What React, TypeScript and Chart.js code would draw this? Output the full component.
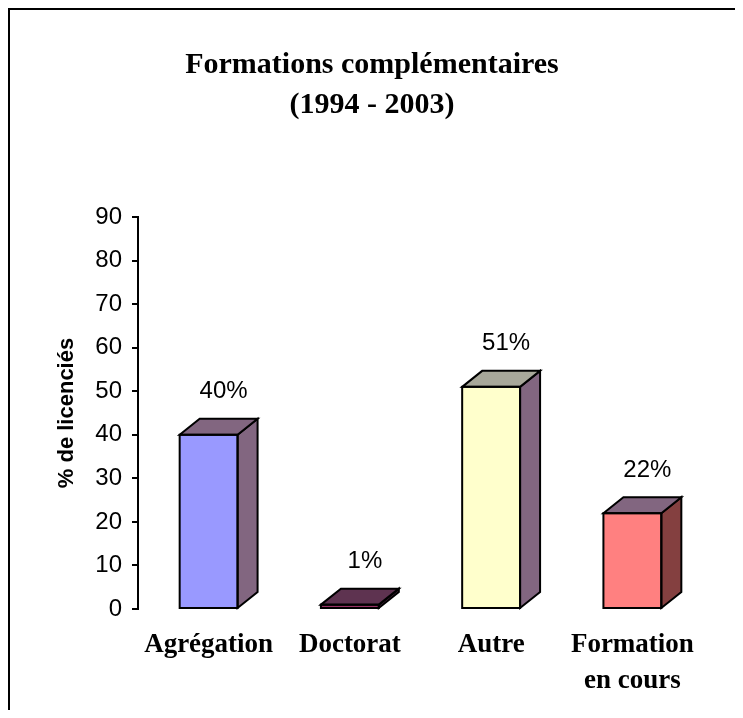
import React, { useEffect, useRef } from 'react';
import { Chart, registerables } from 'chart.js';

Chart.register(...registerables);

// ---- data ----
const titleLines: string[] = ['Formations complémentaires', '(1994 - 2003)'];
const yAxisTitle = '% de licenciés';
const categories: (string | string[])[] = ['Agrégation', 'Doctorat', 'Autre', ['Formation', 'en cours']];
const values: number[] = [40, 1, 51, 22];
const yMin = 0;
const yMax = 90;
const yStep = 10;

// ---- styles ----
const frontColors = ['#9999FF', '#993366', '#FFFFCC', '#FF8080'];
const topColors = ['#826680', '#5E3350', '#A8A89A', '#826680'];
const sideColors = ['#826680', '#4D2A42', '#826680', '#844040'];
const DEPTH_X = 20;
const DEPTH_Y = 16;
const sansNarrow = "'Liberation Sans Narrow', 'Liberation Sans', Arial, sans-serif";
const serif = "'Liberation Serif', 'Times New Roman', serif";

const bar3dPlugin = {
  id: 'bar3d',
  afterDatasetsDraw(chart: any) {
    const ctx = chart.ctx;
    const meta = chart.getDatasetMeta(0);
    meta.data.forEach((el: any, i: number) => {
      const p = el.getProps(['x', 'y', 'base', 'width'], true);
      const l = p.x - p.width / 2;
      const r = p.x + p.width / 2;
      const t = Math.min(p.y, p.base);
      const b = Math.max(p.y, p.base);
      ctx.save();
      ctx.lineWidth = 2;
      ctx.strokeStyle = '#000';
      ctx.lineJoin = 'miter';
      // side face
      ctx.beginPath();
      ctx.moveTo(r, t);
      ctx.lineTo(r + DEPTH_X, t - DEPTH_Y);
      ctx.lineTo(r + DEPTH_X, b - DEPTH_Y);
      ctx.lineTo(r, b);
      ctx.closePath();
      ctx.fillStyle = sideColors[i];
      ctx.fill();
      ctx.stroke();
      // top face
      ctx.beginPath();
      ctx.moveTo(l, t);
      ctx.lineTo(l + DEPTH_X, t - DEPTH_Y);
      ctx.lineTo(r + DEPTH_X, t - DEPTH_Y);
      ctx.lineTo(r, t);
      ctx.closePath();
      ctx.fillStyle = topColors[i];
      ctx.fill();
      ctx.stroke();
      // front outline
      ctx.strokeRect(l, t, r - l, b - t);
      // value label
      ctx.fillStyle = '#000';
      ctx.font = `24px ${sansNarrow}`;
      ctx.textAlign = 'center';
      ctx.textBaseline = 'middle';
      ctx.fillText(`${values[i]}%`, p.x + 15, t - 43);
      ctx.restore();
    });
  },
};

export default function App() {
  const canvasRef = useRef<HTMLCanvasElement | null>(null);

  useEffect(() => {
    if (!canvasRef.current) return;
    const chart = new Chart(canvasRef.current, {
      type: 'bar',
      data: {
        labels: categories,
        datasets: [
          {
            data: values,
            backgroundColor: frontColors,
            borderColor: '#000',
            borderWidth: 0,
            barPercentage: 0.41,
            categoryPercentage: 1,
          },
        ],
      },
      options: {
        animation: false,
        responsive: false,
        maintainAspectRatio: false,
        layout: { padding: { left: 0, right: 9, top: 0, bottom: 0 } },
        plugins: {
          legend: { display: false },
          tooltip: { enabled: false },
          title: {
            display: true,
            text: titleLines,
            color: '#000',
            font: { family: serif, size: 30, weight: 'bold', lineHeight: 40 / 30 },
            padding: { top: 35, bottom: 92 },
          },
        },
        scales: {
          x: {
            offset: true,
            grid: { display: false, drawTicks: false },
            border: { display: false },
            ticks: {
              color: '#000',
              padding: 18,
              maxRotation: 0,
              minRotation: 0,
              autoSkip: false,
              font: { family: serif, size: 27, weight: 'bold', lineHeight: 36 / 27 },
            },
            afterFit: (scale: any) => {
              scale.height = 109;
            },
          },
          y: {
            min: yMin,
            max: yMax,
            grid: {
              display: true,
              drawOnChartArea: false,
              drawTicks: true,
              tickLength: 6,
              color: '#000',
              lineWidth: 2,
            },
            border: { display: true, color: '#000', width: 2 },
            ticks: {
              stepSize: yStep,
              color: '#000',
              padding: 10,
              font: { family: sansNarrow, size: 24 },
            },
            title: {
              display: true,
              text: yAxisTitle,
              color: '#000',
              font: { family: "'Liberation Sans', Arial, sans-serif", size: 22, weight: 'bold', lineHeight: 1.2 },
              padding: { top: 44, bottom: 0 },
            },
            afterFit: (scale: any) => {
              scale.width = 128;
            },
          },
          ySpacer: {
            type: 'linear',
            position: 'right',
            display: true,
            min: yMin,
            max: yMax,
            grid: { display: false, drawTicks: false },
            border: { display: false },
            ticks: { display: false },
            afterFit: (scale: any) => {
              scale.width = 31;
            },
          },
        },
      },
      plugins: [bar3dPlugin],
    });
    return () => chart.destroy();
  }, []);

  return (
    <div
      style={{
        width: 733,
        height: 708,
        borderTop: '2px solid #000',
        borderLeft: '2px solid #000',
        marginBottom: -8,
        overflow: 'hidden',
        background: '#fff',
      }}
    >
      <canvas ref={canvasRef} width={733} height={708} style={{ display: 'block', width: 733, height: 708 }} />
    </div>
  );
}
